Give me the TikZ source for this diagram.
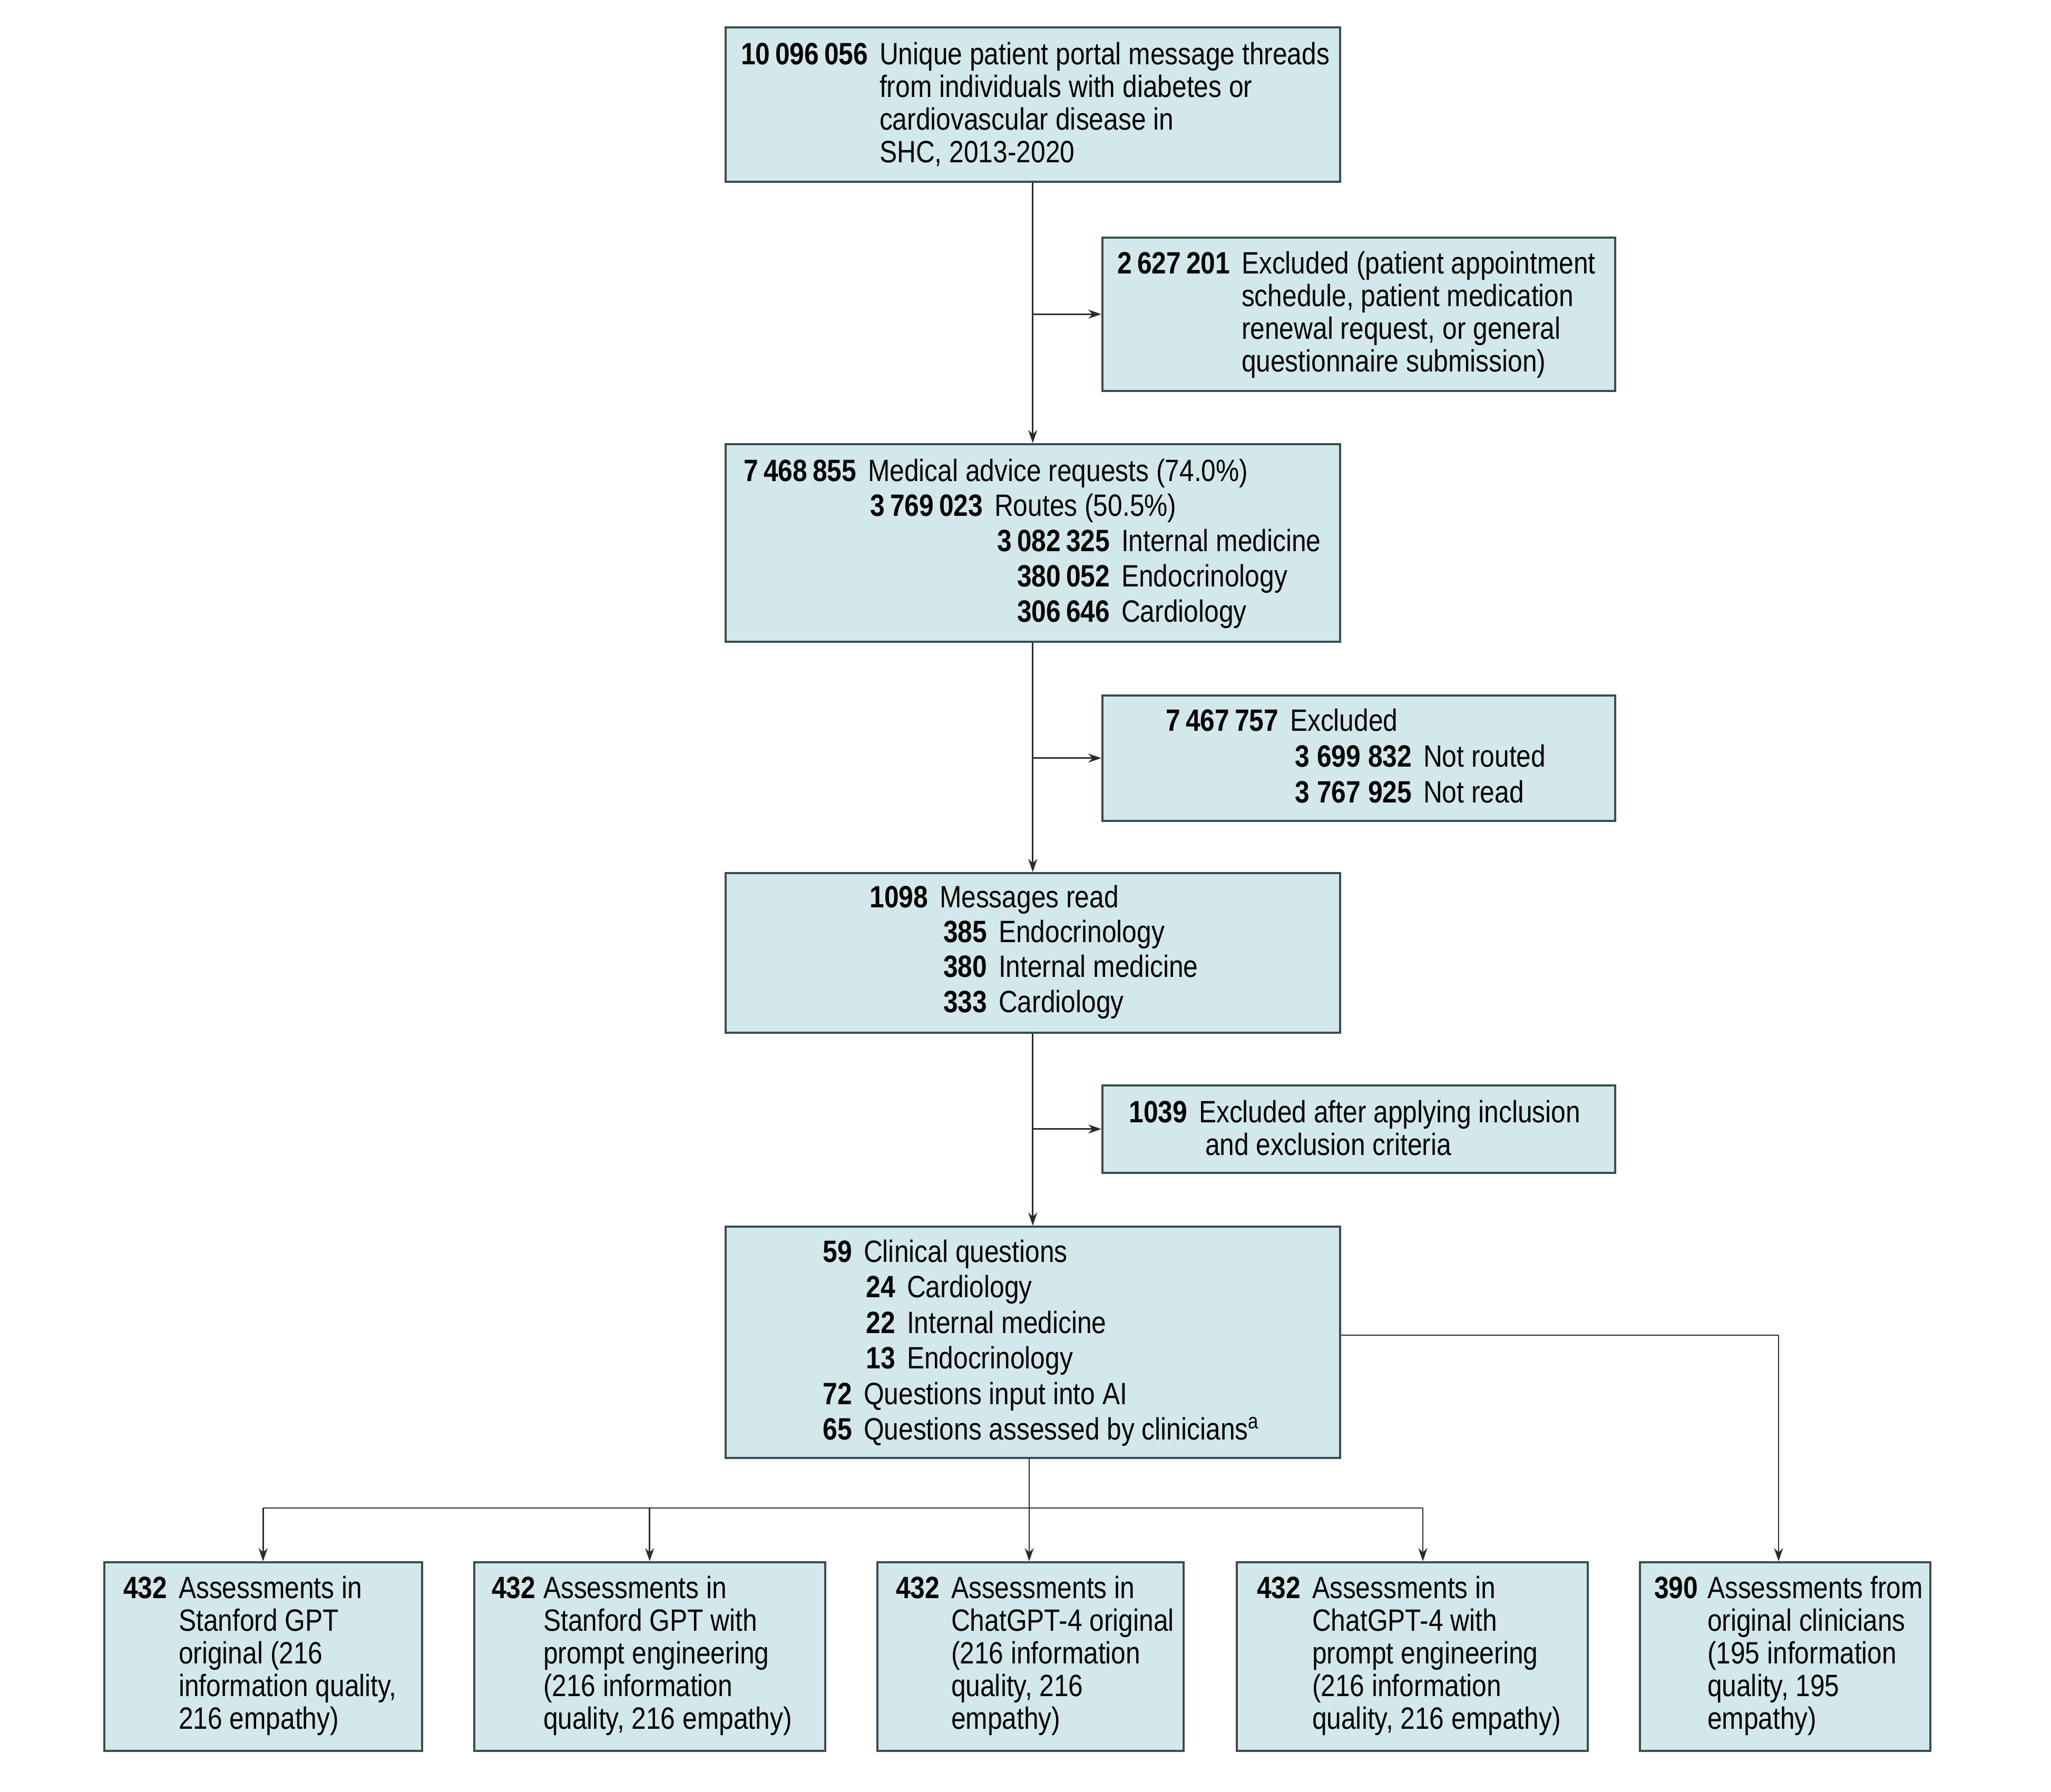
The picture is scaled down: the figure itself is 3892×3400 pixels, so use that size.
\documentclass[tikz,border=0pt]{standalone}
\usepackage{fontspec}
\setmainfont{Liberation Sans}[FakeStretch=0.85]
\usetikzlibrary{arrows.meta}
\newlength\pxu
\setlength\pxu{0.2pt}
\newcommand\nm[2][22]{\llap{\textbf{#2}\hspace{#1\pxu}}}
\definecolor{boxfill}{HTML}{D3E8EB}
\definecolor{boxline}{HTML}{3B4B52}
\definecolor{conn}{HTML}{2B2B2B}
\tikzset{
  box/.style={draw=boxline, fill=boxfill, line width=0.7pt, anchor=north west, inner sep=0pt},
  txt/.style={anchor=base west, inner sep=0pt, font=\fontsize{11.7}{12.4}\selectfont},
  conline/.style={draw=conn, line width=0.55pt},
  arr/.style={conline, -{Stealth[length=5pt,width=3.4pt]}}
}
\begin{document}
\begin{tikzpicture}[x=0.2pt,y=-0.2pt]
\useasboundingbox (0,0) rectangle (3892,3400);
% boxes
\node[box, minimum width=233.2pt, minimum height=58.6pt] (b1) at (1375,50) {};
\node[box, minimum width=194.6pt, minimum height=58.2pt] (b2) at (2090,449) {};
\node[box, minimum width=233.2pt, minimum height=75pt] (b3) at (1375,841) {};
\node[box, minimum width=194.6pt, minimum height=47.6pt] (b4) at (2090,1318) {};
\node[box, minimum width=233.2pt, minimum height=60.6pt] (b5) at (1375,1655) {};
\node[box, minimum width=194.6pt, minimum height=33.2pt] (b6) at (2090,2058) {};
\node[box, minimum width=233.2pt, minimum height=87.8pt] (b7) at (1375,2326) {};
\node[box, minimum width=120.6pt, minimum height=71.6pt] (b8) at (196,2963) {};
\node[box, minimum width=133.2pt, minimum height=71.6pt] (b9) at (898,2963) {};
\node[box, minimum width=116.2pt, minimum height=71.6pt] (b10) at (1663,2963) {};
\node[box, minimum width=133.2pt, minimum height=71.6pt] (b11) at (2345,2963) {};
\node[box, minimum width=110.2pt, minimum height=71.6pt] (b12) at (3110,2963) {};
% texts
\node[txt] (t1) at (1668,122) {\begin{tabular}[t]{@{}l@{}}
\nm{10\,096\,056}Unique patient portal message threads\\
from individuals with diabetes or\\
cardiovascular disease in\\
SHC, 2013-2020\end{tabular}};
\node[txt] (t2) at (2355,519) {\begin{tabular}[t]{@{}l@{}}
\nm{2\,627\,201}Excluded (patient appointment\\
schedule, patient medication\\
renewal request, or general\\
questionnaire submission)\end{tabular}};
\node[txt] (t3) at (1646,913) {\renewcommand\arraystretch{1.08}\begin{tabular}[t]{@{}l@{}}
\nm{7\,468\,855}Medical advice requests (74.0\%)\\
\hspace{240\pxu}\nm{3\,769\,023}Routes (50.5\%)\\
\hspace{481\pxu}\nm{3\,082\,325}Internal medicine\\
\hspace{481\pxu}\nm{380\,052}Endocrinology\\
\hspace{481\pxu}\nm{306\,646}Cardiology\end{tabular}};
\node[txt] (t4) at (2447,1387) {\renewcommand\arraystretch{1.1}\begin{tabular}[t]{@{}l@{}}
\nm{7\,467\,757}Excluded\\
\hspace{253\pxu}\nm{3 699 832}Not routed\\
\hspace{253\pxu}\nm{3 767 925}Not read\end{tabular}};
\node[txt] (t5) at (1782,1722) {\renewcommand\arraystretch{1.07}\begin{tabular}[t]{@{}l@{}}
\nm{1098}Messages read\\
\hspace{112\pxu}\nm{385}Endocrinology\\
\hspace{112\pxu}\nm{380}Internal medicine\\
\hspace{112\pxu}\nm{333}Cardiology\end{tabular}};
\node[txt] (t6) at (2274,2130) {\begin{tabular}[t]{@{}l@{}}
\nm{1039}Excluded after applying inclusion\\
\hspace{12\pxu}and exclusion criteria\end{tabular}};
\node[txt] (t7) at (1638,2395) {\renewcommand\arraystretch{1.09}\begin{tabular}[t]{@{}l@{}}
\nm{59}Clinical questions\\
\hspace{82\pxu}\nm{24}Cardiology\\
\hspace{82\pxu}\nm{22}Internal medicine\\
\hspace{82\pxu}\nm{13}Endocrinology\\
\nm{72}Questions input into AI\\
\nm{65}Questions assessed by clinicians\textsuperscript{a}\end{tabular}};
\node[txt] (t8) at (338,3033) {\begin{tabular}[t]{@{}l@{}}
\nm{432}Assessments in\\
Stanford GPT\\
original (216\\
information quality,\\
216 empathy)\end{tabular}};
\node[txt] (t9) at (1030,3033) {\begin{tabular}[t]{@{}l@{}}
\nm[15]{432}Assessments in\\
Stanford GPT with\\
prompt engineering\\
(216 information\\
quality, 216 empathy)\end{tabular}};
\node[txt] (t10) at (1804,3033) {\begin{tabular}[t]{@{}l@{}}
\nm{432}Assessments in\\
ChatGPT-4 original\\
(216 information\\
quality, 216\\
empathy)\end{tabular}};
\node[txt] (t11) at (2489,3033) {\begin{tabular}[t]{@{}l@{}}
\nm{432}Assessments in\\
ChatGPT-4 with\\
prompt engineering\\
(216 information\\
quality, 216 empathy)\end{tabular}};
\node[txt] (t12) at (3239,3033) {\begin{tabular}[t]{@{}l@{}}
\nm[18]{390}Assessments from\\
original clinicians\\
(195 information\\
quality, 195\\
empathy)\end{tabular}};
% connectors
\draw[arr] (b1.south) -- (b3.north);
\draw[arr] (b1.south |- b2.west) -- (b2.west);
\draw[arr] (b3.south) -- (b5.north);
\draw[arr] (b3.south |- b4.west) -- (b4.west);
\draw[arr] (b5.south) -- (b7.north);
\draw[arr] (b5.south |- b6.west) -- (b6.west);
\coordinate (c12) at (3375,2534);
\draw[conline] (b7.east |- c12) -- (c12);
\draw[arr] (c12) -- (c12 |- b12.north);
\coordinate (hub) at (1953,2862);
\coordinate (c11) at (2700,2862);
\draw[conline] (b7.south -| hub) -- (hub);
\draw[conline] (b8.north |- hub) -- (c11);
\draw[arr] (b8.north |- hub) -- (b8.north);
\draw[arr] (b9.north |- hub) -- (b9.north);
\draw[arr] (hub) -- (hub |- b10.north);
\draw[arr] (c11) -- (c11 |- b11.north);
\end{tikzpicture}
\end{document}
